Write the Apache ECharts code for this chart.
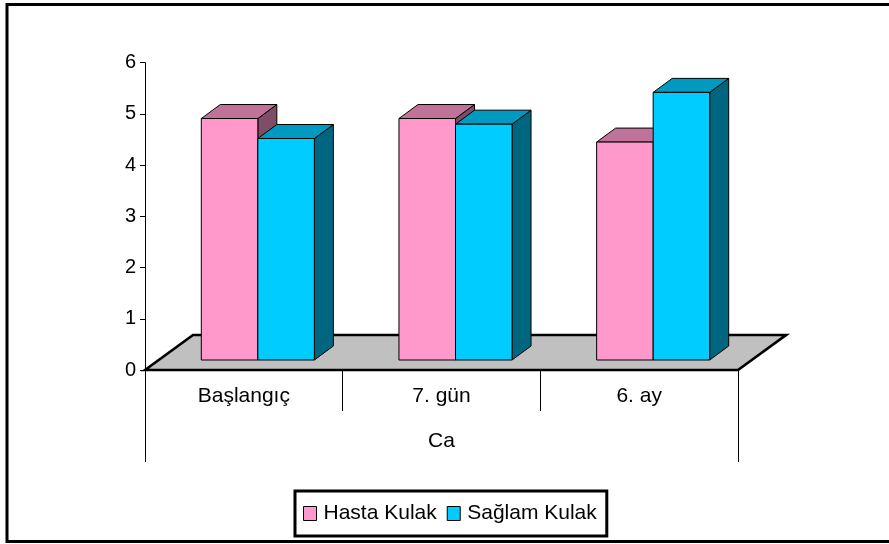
<!DOCTYPE html>
<html>
<head>
    <meta charset="utf-8">
    <title>Ca</title>
    <script src="https://cdn.jsdelivr.net/npm/echarts@6/dist/echarts.min.js"></script>
    <style>
        html, body { margin: 0; padding: 0; background: #fff; }
        #main { width: 889px; height: 544px; }
    </style>
</head>
<body>
    <div id="main"></div>
    <script type="text/javascript">
        // data
        var categories = ['Başlangıç', '7. gün', '6. ay'];
        var groupName = ['Ca'];
        var hastaKulak = [4.91, 4.91, 4.45];
        var saglamKulak = [4.52, 4.8, 5.42];
        var yTicks = [0, 1, 2, 3, 4, 5, 6];

        var FONT = '"Liberation Sans", Arial, sans-serif';
        // oblique depth of the floor and of the bars (pixels)
        var FLOOR_DX = 48, FLOOR_DY = -35;
        var BAR_OFF_X = 14, BAR_OFF_Y = -10;
        var BAR_DX = 19, BAR_DY = -14;

        var faces = [
            { front: '#FF99CC', top: '#BF7399', side: '#7F4D66' },
            { front: '#00CCFF', top: '#0099BF', side: '#00667F' }
        ];

        function barRender(seriesIdx) {
            return function (params, api) {
                var i = api.value(0);
                var v = api.value(1);
                var top = api.coord([i, v]);
                var base = api.coord([i, 0]);
                var band = api.size([1, 0])[0];
                var w = band * 0.286;
                var xl = top[0] + BAR_OFF_X + (seriesIdx === 0 ? -w : 0);
                var xr = xl + w;
                var yb = base[1] + BAR_OFF_Y;
                var yt = top[1];
                var c = faces[seriesIdx];
                var st = { stroke: '#000', lineWidth: 1 };
                return {
                    type: 'group',
                    children: [
                        { type: 'polygon', shape: { points: [[xr, yt], [xr + BAR_DX, yt + BAR_DY], [xr + BAR_DX, yb + BAR_DY], [xr, yb]] },
                          style: Object.assign({ fill: c.side }, st) },
                        { type: 'polygon', shape: { points: [[xl, yt], [xl + BAR_DX, yt + BAR_DY], [xr + BAR_DX, yt + BAR_DY], [xr, yt]] },
                          style: Object.assign({ fill: c.top }, st) },
                        { type: 'rect', shape: { x: xl, y: yt, width: w, height: yb - yt },
                          style: Object.assign({ fill: c.front }, st) }
                    ]
                };
            };
        }

        var myChart = echarts.init(document.getElementById('main'));
        myChart.setOption({
            animation: false,
            backgroundColor: '#fff',
            grid: { left: 145, right: 151, top: 62.7, bottom: 174, containLabel: false },
            graphic: [{
                type: 'rect',
                shape: { x: 7, y: 4.5, width: 900, height: 537 },
                style: { fill: 'none', stroke: '#000', lineWidth: 3 },
                z: 100
            }],
            legend: {
                data: ['Hasta Kulak', 'Sağlam Kulak'],
                left: 295,
                top: 491,
                orient: 'horizontal',
                padding: [12, 10, 12, 8],
                borderColor: '#000',
                borderWidth: 3,
                itemWidth: 13,
                itemHeight: 14,
                itemGap: 10,
                icon: 'rect',
                itemStyle: { borderColor: '#000', borderWidth: 1 },
                textStyle: { color: '#000', fontSize: 21, fontFamily: FONT, padding: [0, 0, 0, 2] }
            },
            xAxis: [{
                type: 'category',
                data: categories,
                position: 'bottom',
                boundaryGap: true,
                axisLine: { show: false },
                axisTick: { show: true, interval: 0, length: 41, lineStyle: { color: '#000', width: 1 } },
                axisLabel: { color: '#000', fontSize: 21, fontFamily: FONT, margin: 16, interval: 0 },
                splitLine: { show: false }
            }, {
                type: 'category',
                data: groupName,
                position: 'bottom',
                boundaryGap: true,
                axisLine: { show: false },
                axisTick: { show: true, length: 92, lineStyle: { color: '#000', width: 1 } },
                axisLabel: { color: '#000', fontSize: 21, fontFamily: FONT, margin: 61 },
                splitLine: { show: false }
            }],
            yAxis: {
                type: 'value',
                min: yTicks[0],
                max: yTicks[yTicks.length - 1],
                interval: 1,
                axisLine: { show: true, lineStyle: { color: '#000', width: 1 } },
                axisTick: { show: true, length: 5, lineStyle: { color: '#000', width: 1 } },
                axisLabel: { color: '#000', fontSize: 20, fontFamily: FONT, margin: 9 },
                splitLine: { show: false }
            },
            series: [{
                name: 'floor',
                type: 'custom',
                silent: true,
                data: [[0, 0]],
                z: 1,
                renderItem: function (params, api) {
                    var cs = params.coordSys;
                    var y0 = api.coord([0, 0])[1];
                    var x0 = cs.x, x1 = cs.x + cs.width;
                    return {
                        type: 'polygon',
                        shape: { points: [[x0, y0], [x0 + FLOOR_DX, y0 + FLOOR_DY], [x1 + FLOOR_DX, y0 + FLOOR_DY], [x1, y0]] },
                        style: { fill: '#C0C0C0', stroke: '#000', lineWidth: 2.7, lineJoin: 'miter' }
                    };
                }
            }, {
                name: 'Hasta Kulak',
                type: 'custom',
                itemStyle: { color: faces[0].front },
                z: 2,
                data: hastaKulak.map(function (v, i) { return [i, v]; }),
                renderItem: barRender(0)
            }, {
                name: 'Sağlam Kulak',
                type: 'custom',
                itemStyle: { color: faces[1].front },
                z: 3,
                data: saglamKulak.map(function (v, i) { return [i, v]; }),
                renderItem: barRender(1)
            }]
        });
    </script>
</body>
</html>
